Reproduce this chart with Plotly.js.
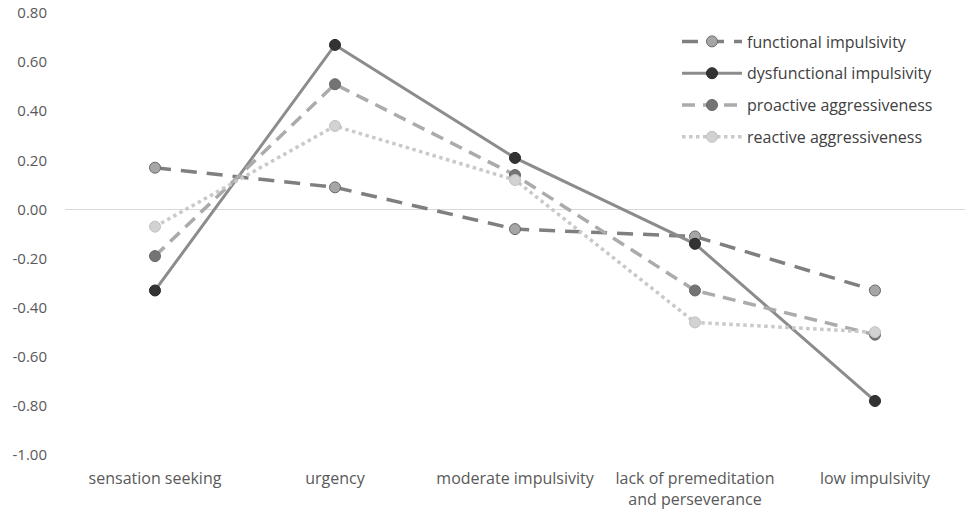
<!DOCTYPE html>
<html>
<head>
<meta charset="utf-8">
<script src="https://cdn.plot.ly/plotly-3.0.1.min.js"></script>
<style>html,body{margin:0;padding:0;background:#fff;}#chart{width:965px;height:511px;}</style>
</head>
<body>
<div id="chart"></div>
<script>
const categories = ["sensation seeking", "urgency", "moderate impulsivity", "lack of premeditation<br>and perseverance", "low impulsivity"];
const seriesNames = ["functional impulsivity", "dysfunctional impulsivity", "proactive aggressiveness", "reactive aggressiveness"];
const functionalImpulsivity = [0.17, 0.09, -0.08, -0.11, -0.33];
const dysfunctionalImpulsivity = [-0.33, 0.67, 0.21, -0.14, -0.78];
const proactiveAggressiveness = [-0.19, 0.51, 0.14, -0.33, -0.51];
const reactiveAggressiveness = [-0.07, 0.34, 0.12, -0.46, -0.50];
const yTickValues = [0.8, 0.6, 0.4, 0.2, 0, -0.2, -0.4, -0.6, -0.8, -1.0];
const yTickLabels = ["0.80", "0.60", "0.40", "0.20", "0.00", "-0.20", "-0.40", "-0.60", "-0.80", "-1.00"];

const styles = [
  {line: "#7f7f7f", dash: "16px,10px", marker: "#a6a6a6", outline: "#6a6a6a", width: 3.5},
  {line: "#8c8c8c", dash: "solid", marker: "#333333", outline: "#262626", width: 3},
  {line: "#ababab", dash: "13px,8px", marker: "#747474", outline: "#666666", width: 3.5},
  {line: "#c9c9c9", dash: "dot", marker: "#d2d2d2", outline: "#c0c0c0", width: 3.5}
];
const values = [functionalImpulsivity, dysfunctionalImpulsivity, proactiveAggressiveness, reactiveAggressiveness];

const traces = values.map((v, i) => ({
  type: "scatter",
  mode: "lines+markers",
  name: seriesNames[i],
  legendgroup: "g" + i,
  x: categories,
  y: v,
  line: {color: styles[i].line, width: styles[i].width, dash: styles[i].dash},
  marker: {size: 11, color: styles[i].marker, line: {color: styles[i].outline, width: 1}}
}));

const layout = {
  width: 965, height: 511,
  margin: {l: 65, r: 0, t: 13, b: 56},
  paper_bgcolor: "#fff", plot_bgcolor: "#fff",
  font: {family: "Open Sans, Liberation Sans, Arial, sans-serif", size: 15, color: "#595959"},
  showlegend: true,
  legend: {x: 0.68, y: 0.974, xanchor: "left", yanchor: "top", font: {size: 16, color: "#404040"}, tracegroupgap: 8, itemwidth: 60, bgcolor: "rgba(0,0,0,0)"},
  xaxis: {type: "category", range: [-0.5, 4.5], showgrid: false, showline: false, zeroline: false, ticks: "", ticklabelstandoff: 12, tickfont: {size: 16, color: "#595959"}, automargin: false},
  yaxis: {range: [-1.0, 0.8], tickvals: yTickValues, ticktext: yTickLabels, showgrid: false, zeroline: true, zerolinecolor: "#d9d9d9", zerolinewidth: 1, showline: false, ticks: "", ticklabelstandoff: 17, tickfont: {size: 15, color: "#595959"}, automargin: false}
};

Plotly.newPlot("chart", traces, layout, {displayModeBar: false, staticPlot: true});
</script>
</body>
</html>
